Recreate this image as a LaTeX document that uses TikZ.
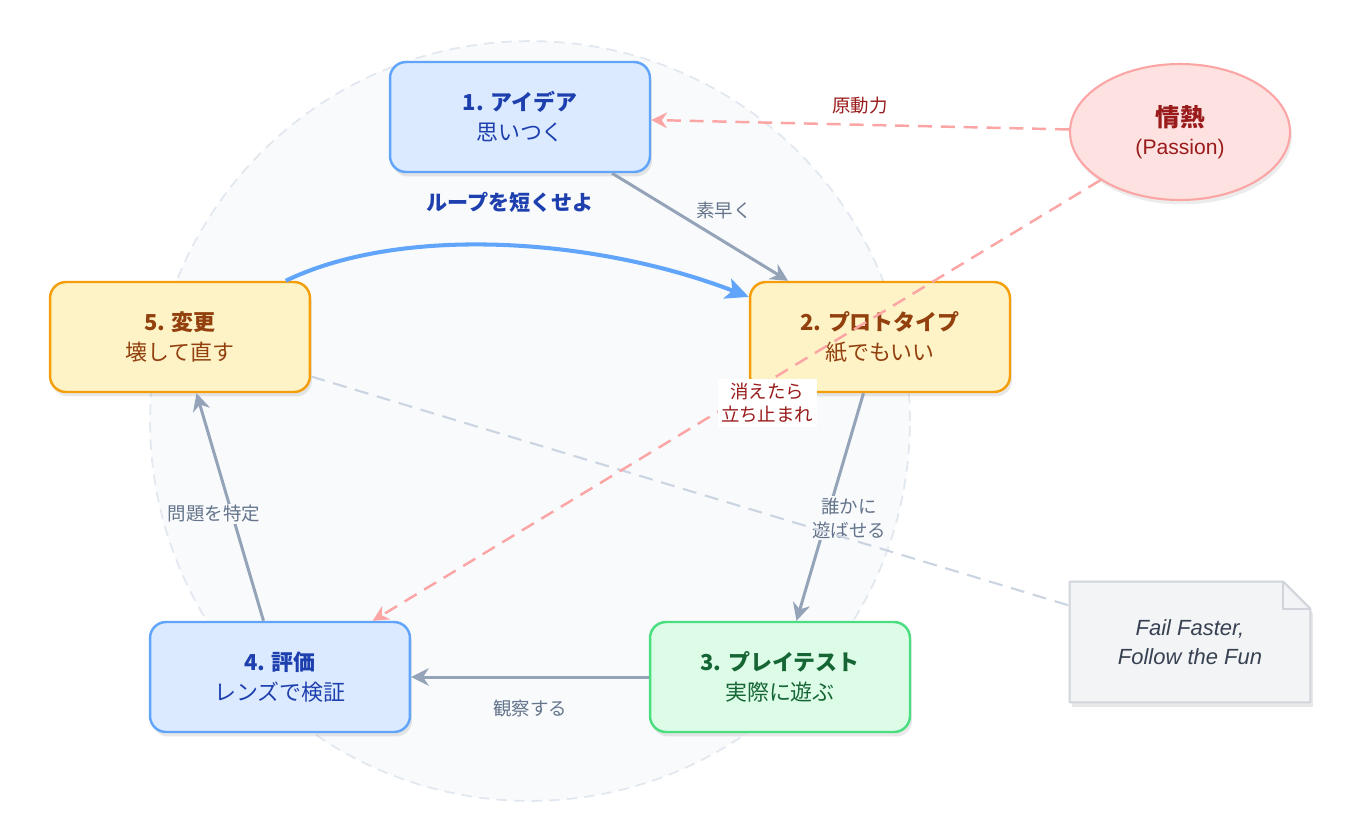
\documentclass[tikz,border=0pt]{standalone}
\usepackage{fontspec}
\setmainfont{Noto Sans CJK JP}
\newfontfamily\latinfont{Liberation Sans}
\usetikzlibrary{
    arrows.meta,
    positioning,
    calc,
    shapes.geometric,
    shadows
}
% --- Palette ---
\definecolor{blueFill}{HTML}{DBEAFE}
\definecolor{blueLine}{HTML}{60A5FA}
\definecolor{blueText}{HTML}{1E40AF}
\definecolor{amberFill}{HTML}{FEF3C7}
\definecolor{amberLine}{HTML}{F59E0B}
\definecolor{amberText}{HTML}{92400E}
\definecolor{greenFill}{HTML}{DCFCE7}
\definecolor{greenLine}{HTML}{4ADE80}
\definecolor{greenText}{HTML}{166534}
\definecolor{roseFill}{HTML}{FEE2E2}
\definecolor{roseLine}{HTML}{FCA5A5}
\definecolor{roseText}{HTML}{991B1B}
\definecolor{noteFill}{HTML}{F3F4F6}
\definecolor{noteLine}{HTML}{D1D5DB}
\definecolor{noteText}{HTML}{374151}
\definecolor{flowLine}{HTML}{94A3B8}
\definecolor{flowText}{HTML}{64748B}
\definecolor{ringFill}{HTML}{F8FAFC}
\definecolor{ringLine}{HTML}{E2E8F0}
\definecolor{hintLine}{HTML}{CBD5E1}
\tikzset{
    % --- Cycle stage (rounded box) ---
    stagebox/.style = {
        rectangle, draw, rounded corners=0.32cm, line width=1.4pt,
        minimum width=5.2cm, minimum height=2.2cm,
        align=center, font=\fontsize{12.5}{17}\selectfont,
        drop shadow={opacity=0.18, shadow xshift=0.04cm, shadow yshift=-0.09cm}
    },
    blue stage/.style  = {stagebox, fill=blueFill, draw=blueLine, text=blueText},
    amber stage/.style = {stagebox, fill=amberFill, draw=amberLine, text=amberText},
    green stage/.style = {stagebox, fill=greenFill, draw=greenLine, text=greenText},
    % --- Driving force (ellipse) ---
    passion/.style = {
        ellipse, draw=roseLine, fill=roseFill, line width=1.2pt, text=roseText,
        minimum width=4.4cm, minimum height=2.72cm, inner sep=0pt, align=center,
        drop shadow={opacity=0.15, shadow xshift=0.04cm, shadow yshift=-0.09cm}
    },
    % --- Step arrow between stages ---
    flow/.style = {
        -{Stealth[length=10pt, width=10pt]}, draw=flowLine, line width=1.7pt
    },
    % --- Label on a step arrow ---
    flow label/.style = {
        font=\fontsize{10.5}{13.5}\selectfont, text=flowText, align=center,
        inner sep=1pt
    },
    % --- Dashed influence arrow ---
    drive/.style = {
        -{Stealth[length=9pt, width=9pt]}, draw=roseLine, line width=1.4pt,
        dash pattern=on 8pt off 5pt
    },
    drive label/.style = {
        font=\fontsize{10.5}{13.5}\selectfont, text=roseText, align=center
    },
    % --- Fast loop (blue curve) ---
    loop arrow/.style = {
        -{Stealth[length=13pt, width=12pt, inset=3pt]}, draw=blueLine,
        line width=2.3pt
    },
    % --- Sticky note ---
    note border/.style = {
        draw=noteLine, fill=noteFill, line width=1.2pt, line join=round
    },
    hint/.style = {
        draw=hintLine, line width=1.2pt, dash pattern=on 8pt off 5pt
    }
}

\begin{document}
\begin{tikzpicture}[x=0.02cm, y=-0.02cm]
\useasboundingbox (0,0) rectangle (1346,825);

% ---------------------------------------------------------
% Background ring
% ---------------------------------------------------------
\draw[ringLine, fill=ringFill, line width=1pt, dash pattern=on 6pt off 4pt]
    (530,421) circle[radius=7.6cm];

% ---------------------------------------------------------
% Stages of the loop
% ---------------------------------------------------------
\node[blue stage] (Idea) at (520,117) {\textbf{1. アイデア}\\思いつく};
\node[amber stage] (Proto) at (880,337) {\textbf{2. プロトタイプ}\\紙でもいい};
\node[green stage] (Play) at (780,677) {\textbf{3. プレイテスト}\\実際に遊ぶ};
\node[blue stage] (Eval) at (280,677) {\textbf{4. 評価}\\レンズで検証};
\node[amber stage] (Change) at (180,337) {\textbf{5. 変更}\\壊して直す};

% ---------------------------------------------------------
% Passion and note
% ---------------------------------------------------------
\node[passion] (Passion) at (1180,132)
    {{\fontsize{14}{17}\selectfont\bfseries 情熱}\\[4pt]{\latinfont\fontsize{12}{14}\selectfont (Passion)}};

\node[minimum width=4.8cm, minimum height=2.4cm, inner sep=0pt] (NoteBox) at (1190,642) {};
\filldraw[note border, drop shadow={opacity=0.18, shadow xshift=0.05cm, shadow yshift=-0.09cm}]
    (NoteBox.north west) -- ($(NoteBox.north east)+(-0.54cm,0cm)$)
    -- ($(NoteBox.north east)+(0cm,-0.54cm)$) -- (NoteBox.south east)
    -- (NoteBox.south west) -- cycle;
\draw[note border, fill=none]
    ($(NoteBox.north east)+(-0.54cm,0cm)$) |- ($(NoteBox.north east)+(0cm,-0.54cm)$);
\node[font=\latinfont\itshape\fontsize{12.5}{16.5}\selectfont, text=noteText, align=center]
    (Note) at (NoteBox.center) {Fail Faster,\\Follow the Fun};

% ---------------------------------------------------------
% Step arrows
% ---------------------------------------------------------
\draw[flow] (Idea) -- (Proto)
    node[flow label, pos=0.5, anchor=south west, xshift=-0.14cm, yshift=0.1cm] {素早く};
\draw[flow] (Proto) -- (Play)
    node[flow label, fill=ringFill, pos=0.55, xshift=0.45cm] {誰かに\\遊ばせる};
\draw[flow] (Play) -- (Eval)
    node[flow label, midway, below=0.4cm] {観察する};
\draw[flow] (Eval) -- (Change)
    node[flow label, fill=ringFill, pos=0.47, xshift=-0.36cm] {問題を特定};

% Fast loop
\draw[loop arrow] (Change.28) .. controls +(118,-57) and +(-150,-58) .. (Proto.163);
\node[font=\fontsize{12}{14}\selectfont\bfseries, text=blueText] (LoopLabel)
    at (510,202) {ループを短くせよ};

% ---------------------------------------------------------
% Influence of passion
% ---------------------------------------------------------
\draw[hint] (Change) -- (NoteBox);
\draw[drive] (Passion) -- (Idea)
    node[drive label, midway, above=0.08cm] {原動力};
\draw[drive] (Passion) -- (Eval)
    node[drive label, fill=white, inner sep=2pt, pos=0.458, yshift=-0.42cm] {消えたら\\立ち止まれ};

\end{tikzpicture}
\end{document}
